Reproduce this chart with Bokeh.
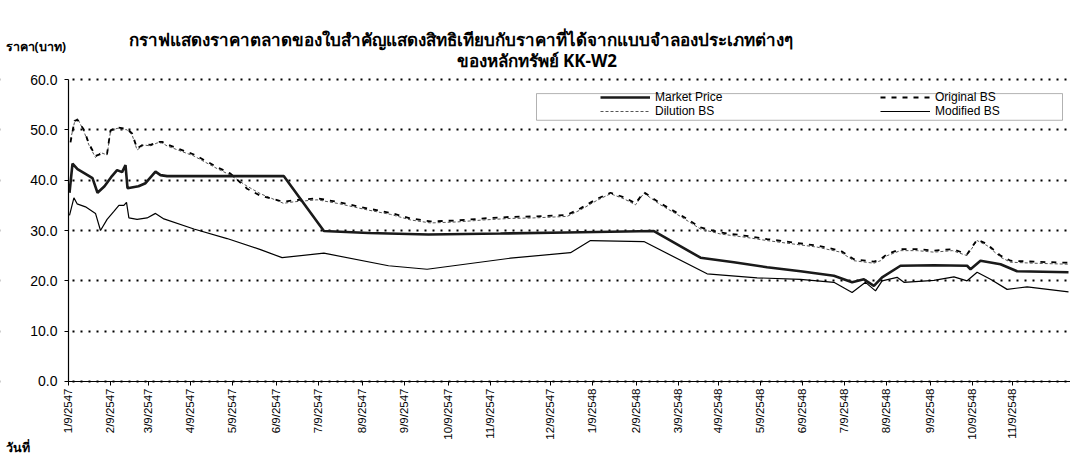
import math
from bokeh.plotting import figure
from bokeh.models import (FixedTicker, Legend, LegendItem, BoxAnnotation,
                          PrintfTickFormatter, Label)
from bokeh.embed import file_html
from bokeh.resources import INLINE

# ---- data (x = trading-day index, y = price in baht) ----
tick_idx = [0, 21, 40, 61, 82, 104, 125, 147, 168, 190, 211, 241, 262, 284,
            305, 325, 346, 367, 388, 409, 431, 452, 472]
tick_labels = ["1/9/2547", "2/9/2547", "3/9/2547", "4/9/2547", "5/9/2547",
               "6/9/2547", "7/9/2547", "8/9/2547", "9/9/2547", "10/9/2547",
               "11/9/2547", "12/9/2547", "1/9/2548", "2/9/2548", "3/9/2548",
               "4/9/2548", "5/9/2548", "6/9/2548", "7/9/2548", "8/9/2548",
               "9/9/2548", "10/9/2548", "11/9/2548"]
y_ticks = [0, 10, 20, 30, 40, 50, 60]

bs_x = [1, 3, 4.5, 7.7, 10.2, 13.5, 16, 19.3, 21, 24.3, 29.3, 31.8, 34.3, 37.7,
        41, 44.3, 46.8, 49.3, 62.7, 74.3, 81, 89.3, 96, 107.5, 112.7, 124.3,
        134.3, 149.3, 161, 171, 181, 194.3, 207.7, 221, 232.7, 249.3, 256,
        264.3, 271, 277.7, 283.5, 287.7, 296, 306, 316, 326, 337.7, 349.3,
        362.7, 374.3, 386, 392.7, 402.7, 406, 409.3, 416, 424.3, 432.7, 442,
        449.3, 454.3, 459.3, 466, 471, 482.7, 500]
dilution_y = [48.0, 51.5, 52.3, 49.7, 47.0, 44.5, 45.5, 45.0, 49.7, 50.3,
              50.0, 49.0, 46.0, 47.0, 46.8, 47.4, 47.4, 46.8, 44.8, 42.3,
              41.0, 38.8, 37.3, 35.4, 35.7, 36.1, 35.4, 34.1, 33.2, 32.1,
              31.5, 31.7, 32.1, 32.4, 32.5, 32.8, 34.1, 36.0, 37.3, 36.3,
              35.1, 37.4, 35.1, 32.8, 30.3, 29.3, 28.7, 28.0, 27.3, 26.7,
              25.7, 24.0, 23.5, 24.0, 25.0, 26.0, 26.0, 25.7, 26.0, 25.0,
              28.0, 27.0, 24.7, 23.7, 23.5, 23.3]
original_y = [47.5, 51.8, 52.0, 50.0, 47.3, 44.8, 45.2, 45.3, 49.9, 50.5,
              50.2, 49.3, 46.3, 47.2, 47.0, 47.6, 47.6, 47.1, 45.1, 42.6,
              41.3, 38.3, 36.9, 35.7, 36.0, 36.4, 35.7, 34.4, 33.5, 32.4,
              31.8, 32.0, 32.4, 32.7, 32.8, 33.1, 34.4, 36.3, 37.5, 36.6,
              35.4, 37.6, 35.4, 33.1, 30.6, 29.6, 29.0, 28.3, 27.6, 27.0,
              26.0, 24.3, 23.8, 24.3, 25.3, 26.3, 26.3, 26.0, 26.3, 25.3,
              28.2, 27.3, 25.0, 24.0, 23.8, 23.6]

market_x = [0.5, 2, 4.5, 8.7, 12, 14.5, 18, 21.3, 24.3, 26.8, 28.5, 29.5, 35,
            38.5, 43.5, 46, 49.3, 107.7, 127.7, 150, 180, 216, 249, 292.7, 316,
            332.7, 349.3, 366, 382.7, 391.8, 397.7, 402.7, 406.8, 416, 432.7,
            449.3, 451, 456, 466, 474.3, 500]
market_y = [37.5, 43.3, 42.2, 41.2, 40.4, 37.5, 38.8, 40.6, 42.0, 41.6, 43.0,
            38.4, 38.8, 39.4, 41.7, 41.0, 40.8, 40.8, 29.9, 29.5, 29.2, 29.4,
            29.6, 29.9, 24.6, 23.7, 22.7, 21.9, 21.0, 19.7, 20.3, 19.0, 20.7,
            23.0, 23.1, 23.0, 22.3, 24.0, 23.3, 21.9, 21.7]

modified_x = [0.5, 2.7, 4.3, 8.5, 13.5, 16, 19.3, 22.7, 25.2, 27.7, 29, 30.2,
              34.3, 39.3, 43.5, 47.7, 62.7, 79.3, 96, 106.8, 127.7, 160, 179.3,
              221, 251, 261, 287.7, 319.3, 344.3, 366, 382.7, 391.8, 398.5,
              403.5, 406.8, 414.3, 417.7, 432.7, 442.7, 449.3, 454.3, 461,
              469.3, 479.3, 500]
modified_y = [33.0, 36.5, 35.3, 34.7, 33.4, 30.0, 32.2, 33.8, 35.0, 35.0, 35.6,
              32.5, 32.2, 32.5, 33.4, 32.3, 30.3, 28.4, 26.2, 24.6, 25.5, 23.0,
              22.3, 24.5, 25.6, 28.0, 27.8, 21.4, 20.6, 20.3, 19.7, 17.7, 19.7,
              18.0, 20.0, 20.7, 19.7, 20.1, 20.8, 20.0, 21.7, 20.3, 18.3, 18.8,
              17.8]

title_line1 = "กราฟแสดงราคาตลาดของใบสำคัญแสดงสิทธิเทียบกับราคาที่ได้จากแบบจำลองประเภทต่างๆ"
title_line2 = "ของหลักทรัพย์ KK-W2"
y_title = "ราคา(บาท)"
x_title = "วันที่"

THAI = "Noto Sans"
LAT = "Liberation Sans"

# The frame covers the whole canvas, so that titles and captions sit inside
# it; the value axes are pinned at x=0 and y=0 of the data.
X_LEFT, X_RIGHT = -34, 501
Y_BOTTOM, Y_TOP = -15.7, 75.7
p = figure(width=1070, height=460, x_range=(X_LEFT, X_RIGHT),
           y_range=(Y_BOTTOM, Y_TOP), output_backend="svg",
           toolbar_location=None, min_border_left=0, min_border_right=0,
           min_border_top=0, min_border_bottom=0)
p.outline_line_color = None
p.background_fill_color = "white"
p.border_fill_color = "white"

p.xgrid.grid_line_color = None
p.ygrid.ticker = FixedTicker(ticks=y_ticks)
p.ygrid.grid_line_color = "black"
p.ygrid.grid_line_width = 1.8
p.ygrid.grid_line_dash = "2 6"

# white strip left of the value axis, under the axes, hiding grid stubs
strip = BoxAnnotation(left=X_LEFT, right=0, bottom=Y_BOTTOM, top=Y_TOP,
                      fill_color="white", fill_alpha=1.0, line_color=None,
                      level="underlay")
p.add_layout(strip)

p.xaxis.fixed_location = 0
p.xaxis.ticker = FixedTicker(ticks=tick_idx)
p.xaxis.bounds = (0, X_RIGHT)
p.xaxis.major_label_overrides = {t: lab for t, lab in zip(tick_idx, tick_labels)}
p.xaxis.major_label_orientation = math.pi / 2
p.xaxis.major_label_standoff = 3
p.xaxis.major_label_text_font_size = "11.5px"
p.yaxis.fixed_location = 0
p.yaxis.ticker = FixedTicker(ticks=y_ticks)
p.yaxis.bounds = (0, 60)
p.yaxis.formatter = PrintfTickFormatter(format="%.1f")
p.yaxis.major_label_standoff = 7
p.yaxis.major_label_text_font_size = "14px"
for ax in (p.xaxis, p.yaxis):
    ax.axis_line_color = "black"
    ax.axis_line_width = 1.2
    ax.major_tick_line_color = "black"
    ax.major_tick_out = 4
    ax.major_tick_in = 0
    ax.minor_tick_out = 0
    ax.minor_tick_in = 0
    ax.major_label_text_font = LAT
    ax.major_label_text_color = "black"

r_dil = p.line(bs_x, dilution_y, line_color="#555555", line_width=1,
               line_dash="3 2")
r_org = p.line(bs_x, original_y, line_color="black", line_width=1.8,
               line_dash="5 6")
r_mkt = p.line(market_x, market_y, line_color="#1a1a1a", line_width=2.6)
r_mod = p.line(modified_x, modified_y, line_color="black", line_width=1.2)

box = BoxAnnotation(left=234, right=497, top=57.2, bottom=51.9,
                    fill_color="white", fill_alpha=1.0,
                    line_color="black", line_width=1)
p.add_layout(box)

def make_legend(items, loc):
    return Legend(items=items, location=loc, orientation="vertical",
                  padding=0, margin=0, spacing=0,
                  glyph_width=50, glyph_height=12, label_height=12,
                  label_standoff=5, label_text_font=LAT,
                  label_text_font_size="12px", label_text_color="black",
                  border_line_color=None, background_fill_alpha=0)

# legend locations are pixels from the frame's bottom-left corner
leg1 = make_legend([LegendItem(label="Market Price", renderers=[r_mkt]),
                    LegendItem(label="Dilution BS", renderers=[r_dil])],
                   (600, 342))
leg2 = make_legend([LegendItem(label="Original BS", renderers=[r_org]),
                    LegendItem(label="Modified BS", renderers=[r_mod])],
                   (880, 342))
p.add_layout(leg1)
p.add_layout(leg2)

def add_text(txt, x, y, size):
    p.add_layout(Label(x=x, y=y, text=txt, text_align="left",
                       text_baseline="middle", text_font=THAI,
                       text_font_size=size, text_font_style="bold",
                       text_color="black"))

add_text(title_line1, 30, 67.95, "17px")
add_text(title_line2, 194, 63.77, "17px")
add_text(y_title, -31.5, 66.56, "12.5px")
add_text(x_title, -31.5, -13.1, "12.5px")

open("out.html", "w").write(file_html(p, INLINE))
